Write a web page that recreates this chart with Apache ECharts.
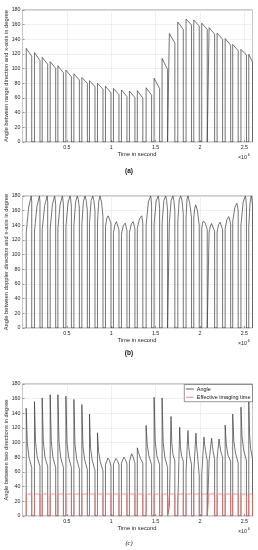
<!DOCTYPE html>
<html><head><meta charset="utf-8">
<script src="https://cdn.jsdelivr.net/npm/echarts@6/dist/echarts.min.js"></script>
<style>html,body{margin:0;padding:0;background:#fff}#c{width:258px;height:550px}</style>
</head><body><div id="c"></div>
<script>
// ---- data (time in seconds, angles in degrees) ----
const winStart = [42000,135000,222000,312000,399000,489000,579000,669000,755000,845000,935000,1025000,1115000,1205000,1294000,1393000,1483000,1573000,1655000,1750000,1843000,1930000,2020000,2103000,2193000,2284000,2369000,2462000,2550000];
const winEnd = [104000,197000,284000,374000,461000,551000,641000,731000,817000,907000,997000,1087000,1177000,1267000,1356000,1455000,1545000,1635000,1717000,1812000,1905000,1992000,2082000,2165000,2255000,2346000,2431000,2524000,2592000];

// (a) range direction angle: value at window start and at window end
const aTop = [127.7,122,115.5,109.5,104,98,93,88,83.6,80,76,73,71,69.5,70,74,87,114,148,163.6,167.7,166.4,162,156,148.6,141,133,126.4,119.5];
const aEnd = [117,111,106,100.5,94.5,89,84.5,80,75.5,72,67,64.5,62,60.5,60,64,73,99,135,153.6,159.5,158,153.6,147,140,132,124.5,118.6,109];

// (b) doppler direction angle
const bStart   = [130,132,134,135,136,138,140,142,143,145,138,130,128,130,136,140,142,143,143,145,150,150,136,130,131,136,145,140,138];
const bRiseMid = [165,166,167,168,168,170,172,173,174,172,150,141,140,142,149,172,173,174,174,175,176,163,143,139,141,148,164,172,170];
const bPeakPos = [0.9,0.9,0.9,0.8,0.8,0.75,0.63,0.58,0.6,0.45,0.5,0.55,0.7,0.7,0.8,0.82,0.75,0.65,0.65,0.53,0.35,0.35,0.3,0.45,0.55,0.65,0.75,0.8,0.65];
const bPeak    = [180,180,180,180,180,180,180,180,180,180,153,145,143,145,153,180,180,180,180,180,180,168,146,142.5,144.3,152,170,180,180];
const bFallMid = [178,178,178,176,176,176,175,174,174,172,151,143,141,143,151,176,175,174,174,174,170,160,143,140,142,150,167,176,176];
const bEnd     = [172,172,172,168,168,166,163,160,160,152,143,134,133,135,143,166,163,160,160,156,150,140,134,132,134,142,158,166,166];

// (c) angle between two directions
const cStart   = [147,156,161,165.5,165.5,163.5,159,152,139,113.5,70,71,72,74,93,123.5,162,161,13,13,60,60,56,75,78,124,139,148.5,156];
const cPeakPos = [0,0,0,0,0,0,0,0,0,0,0.45,0.45,0.45,0.4,0,0,0,0,0.3,0.35,0.35,0.4,0.4,0.45,0.35,0,0,0,0];
const cPeak    = [147,156,161,165.5,165.5,163.5,159,152,139,113.5,79,78.5,80.3,84.9,93,123.5,162,161,135.7,121,116.6,113,107.6,106,105,124,139,148.5,156];
const cQ1      = [100,100,102,102,102,100,98,95,92,88,78.5,78,79.5,84,87,98,102,100,100,95,95,95,98,98,97,98,102,108,112];
const cQ2      = [80,80,80,80,80,80,78,77,76,74,76,75.5,77,80,80,82,82,80,84,82,82,82,88,88,88,83,86,90,92];
const cEnd     = [66,68,68,66,66,66,64,63,62,62,68,70,71,72,72,70,70,66,75,75,70,55,75,78,80,75,72,75,78];
const effLevel = 30;

const xTickValues = [500000,1000000,1500000,2000000,2500000];
const xTickLabels = ['0.5','1','1.5','2','2.5'];

// ---- build series data ----
function buildA(){const d=[];for(let i=0;i<winStart.length;i++){const s=winStart[i],e=winEnd[i];d.push([s,0],[s,aTop[i]],[e,aEnd[i]],[e,0]);}return d;}
function buildB(){const d=[];for(let i=0;i<winStart.length;i++){const s=winStart[i],e=winEnd[i],pk=s+(e-s)*bPeakPos[i];
  d.push([s,0],[s,bStart[i]],[(s+pk)/2,bRiseMid[i]],[pk,bPeak[i]],[(pk+e)/2,bFallMid[i]],[e,bEnd[i]],[e,0]);}return d;}
function buildC(){const d=[];for(let i=0;i<winStart.length;i++){const s=winStart[i],e=winEnd[i],pk=s+(e-s)*cPeakPos[i];
  d.push([s,0],[s,cStart[i]]); if(cPeakPos[i]>0) d.push([pk,cPeak[i]]);
  d.push([pk+(e-pk)*0.2,cQ1[i]],[pk+(e-pk)*0.5,cQ2[i]],[e,cEnd[i]],[e,0]);}return d;}
function buildEff(){const d=[];for(let i=0;i<winStart.length;i++){const s=winStart[i],e=winEnd[i];d.push([s,0],[s,effLevel],[e,effLevel],[e,0]);}return d;}

const FONT = '"Liberation Sans", Arial, Helvetica, sans-serif';
const TXT = '#262626';
const RED = '#f26a6a';
const gridTops = [10,196,384];
const gridH = 132;
function xAxis(i){return {type:'value',gridIndex:i,min:0,max:2592000,interval:500000,
  axisLine:{show:false},axisTick:{show:true,inside:true,length:2,lineStyle:{color:'#444',width:0.5}},
  splitLine:{show:true,lineStyle:{color:'#e6e6e6',width:0.6}},
  axisLabel:{fontSize:5.3,color:TXT,fontFamily:FONT,margin:3,showMinLabel:false,showMaxLabel:false,
    formatter:v=>{const k=xTickValues.indexOf(Math.round(v));return k>=0?xTickLabels[k]:'';}}};}
function yAxis(i){return {type:'value',gridIndex:i,min:0,max:180,interval:20,
  axisLine:{show:false},axisTick:{show:true,inside:true,length:2,lineStyle:{color:'#444',width:0.5}},
  splitLine:{show:true,lineStyle:{color:'#e6e6e6',width:0.6}},
  axisLabel:{fontSize:5.3,color:TXT,fontFamily:FONT,margin:2}};}

const lineBlack = {color:'#3a3a3a',width:0.7};
const graphics = [];
const yTitles = ['Angle between range direction and x-axis in degree','Angle between doppler direction and x-axis in degree','Angle between two directions in degree'];
const panelTags = ['(a)','(b)','(c)'];
const tagY = [171,353,543];
for(let i=0;i<3;i++){
  const t=gridTops[i];
  graphics.push({type:'text',x:6,y:t+gridH/2,rotation:Math.PI/2,style:{text:yTitles[i],font:'5.8px '+FONT,fill:TXT,align:'center',verticalAlign:'middle'}});
  graphics.push({type:'text',x:137,y:t+gridH+12.5,style:{text:'Time in second',font:'5.8px '+FONT,fill:TXT,align:'center',verticalAlign:'middle'}});
  graphics.push({type:'text',x:238,y:t+gridH+15.5,style:{text:'×10',font:'5.3px '+FONT,fill:TXT,align:'left',verticalAlign:'middle'}});
  graphics.push({type:'text',x:247.8,y:t+gridH+13.3,style:{text:'6',font:'3.8px '+FONT,fill:TXT,align:'left',verticalAlign:'middle'}});
  graphics.push({type:'text',x:129,y:tagY[i],style:{text:panelTags[i],font:(i===2?'italic ':'bold ')+'6.5px '+(i===2?'"Liberation Serif", serif':FONT),fill:'#111',align:'center',verticalAlign:'middle'}});
}

const option = {
  animation:false,
  backgroundColor:'#fff',
  grid:[0,1,2].map(i=>({left:22.5,top:gridTops[i],width:230,height:gridH,show:true,borderColor:'#555',borderWidth:0.6,backgroundColor:'transparent',containLabel:false,outerBoundsMode:'none'})),
  xAxis:[xAxis(0),xAxis(1),xAxis(2)],
  yAxis:[yAxis(0),yAxis(1),yAxis(2)],
  legend:{data:[{name:'Angle',icon:'rect'},{name:'Effective imaging time',icon:'rect'}],orient:'vertical',right:5.5,top:384.5,itemWidth:8,itemHeight:0.8,itemGap:2.2,
    padding:[1.5,2,1.5,1.5],textStyle:{fontSize:5.5,color:'#111',fontFamily:FONT,padding:[0,0,0,-2]},borderColor:'#333',borderWidth:0.5,
    backgroundColor:'#fff',borderRadius:0,selectedMode:false},
  series:[
    {name:'range',type:'line',xAxisIndex:0,yAxisIndex:0,data:buildA(),symbol:'none',lineStyle:lineBlack,silent:true},
    {name:'doppler',type:'line',xAxisIndex:1,yAxisIndex:1,data:buildB(),symbol:'none',lineStyle:lineBlack,silent:true},
    {name:'Angle',type:'line',xAxisIndex:2,yAxisIndex:2,data:buildC(),symbol:'none',color:'#3a3a3a',itemStyle:{color:'#3a3a3a'},lineStyle:lineBlack,silent:true},
    {name:'Effective imaging time',type:'line',xAxisIndex:2,yAxisIndex:2,data:buildEff(),symbol:'none',color:RED,itemStyle:{color:RED},lineStyle:{color:RED,width:0.7},silent:true}
  ],
  graphic:graphics
};
echarts.init(document.getElementById('c'),null,{renderer:'canvas'}).setOption(option);
</script></body></html>
